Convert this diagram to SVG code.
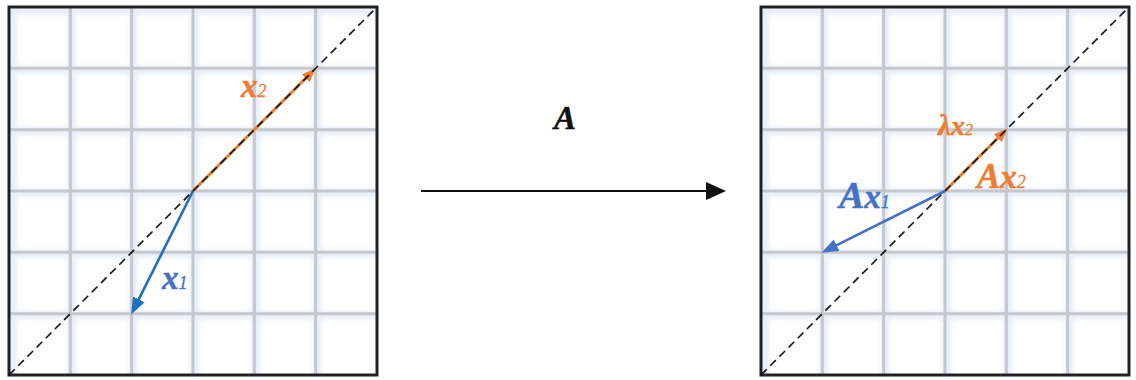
<svg xmlns="http://www.w3.org/2000/svg" xmlns:xlink="http://www.w3.org/1999/xlink" width="1136" height="380" viewBox="0 0 1136 380">
<style>
.glow{stroke:#d3e0f4;stroke-width:8;fill:none;opacity:0.55}
.gl{stroke:#c6c7cc;stroke-width:3;fill:none}
.frame{fill:none;stroke:#222;stroke-width:3}
.diag{stroke:#111;stroke-width:1.6;stroke-dasharray:8 5;fill:none}
.lbl{font-family:"Liberation Serif","Times New Roman",serif;font-weight:bold;font-style:italic;stroke-width:0.5}
.sub{font-weight:normal;stroke-width:0.3}
.blue{fill:#4472c4;stroke:#4472c4}
.orange{fill:#ed7d31;stroke:#ed7d31}
</style>
<defs>
<filter id="blur" x="-5%" y="-5%" width="110%" height="110%"><feGaussianBlur stdDeviation="2"/></filter>
<marker id="ahBlue" viewBox="0 -7 17 14" refX="6" refY="0" markerWidth="17" markerHeight="14" markerUnits="userSpaceOnUse" orient="auto"><path d="M0,-6.5 L17,0 L0,6.5 z" fill="#1f6fbd"/></marker>
<marker id="ahBlue2" viewBox="0 -7 17 14" refX="6" refY="0" markerWidth="17" markerHeight="14" markerUnits="userSpaceOnUse" orient="auto"><path d="M0,-6.5 L17,0 L0,6.5 z" fill="#4472c4"/></marker>
<marker id="ahOrange" viewBox="0 -6 14 12" refX="4" refY="0" markerWidth="14" markerHeight="12" markerUnits="userSpaceOnUse" orient="auto"><path d="M0,-5.5 L14,0 L0,5.5 z" fill="#ed7d31"/></marker>
<g id="gridsym">
<rect x="0" y="0" width="368" height="368" fill="#fff"/>
<g filter="url(#blur)" class="glow" transform="translate(1.5,1.5)">
<path d="M61.33,0V368M122.67,0V368M184,0V368M245.33,0V368M306.67,0V368M0,61.33H368M0,122.67H368M0,184H368M0,245.33H368M0,306.67H368M2,0V368M0,2H368"/>
</g>
<path class="gl" d="M61.33,0V368M122.67,0V368M184,0V368M245.33,0V368M306.67,0V368M0,61.33H368M0,122.67H368M0,184H368M0,245.33H368M0,306.67H368"/>
<rect class="frame" x="0" y="0" width="368" height="368"/>
</g>
</defs>
<g id="left-plane">
<use xlink:href="#gridsym" transform="translate(9,7)"/>
</g>
<g id="right-plane">
<use xlink:href="#gridsym" transform="translate(761,7)"/>
</g>
<g id="connectors">
<line x1="193" y1="191" x2="308.6" y2="75.4" stroke="#ed7d31" stroke-width="3" marker-end="url(#ahOrange)"/>
<line class="diag" x1="9" y1="375" x2="377" y2="7"/>
<line x1="193" y1="191" x2="136.1" y2="304.7" stroke="#1f6fbd" stroke-width="2.6" marker-end="url(#ahBlue)"/>
<line x1="945" y1="191" x2="1000.7" y2="135.3" stroke="#ed7d31" stroke-width="3" marker-end="url(#ahOrange)"/>
<line class="diag" x1="761" y1="375" x2="1129" y2="7"/>
<line x1="945" y1="191" x2="831.3" y2="247.9" stroke="#4472c4" stroke-width="2.6" marker-end="url(#ahBlue2)"/>
<line x1="421" y1="191" x2="708" y2="191" stroke="#111" stroke-width="2"/>
<polygon points="706,182 726,191 706,200" fill="#111"/>
</g>
<g id="labels">
<text class="lbl" x="565" y="129" font-size="33" text-anchor="middle" fill="#111" stroke="#111">A</text>
<text class="lbl blue" x="162" y="289" font-size="33">x<tspan class="sub" font-size="18">1</tspan></text>
<text class="lbl orange" x="241" y="97" font-size="33">x<tspan class="sub" font-size="18">2</tspan></text>
<text class="lbl blue" x="839" y="208" font-size="38">A<tspan font-size="33">x</tspan><tspan class="sub" font-size="18">1</tspan></text>
<text class="lbl orange" x="938" y="135" font-size="29">λ<tspan font-size="28">x</tspan><tspan class="sub" font-size="16">2</tspan></text>
<text class="lbl orange" x="977" y="188" font-size="35">A<tspan font-size="33">x</tspan><tspan class="sub" font-size="18">2</tspan></text>
</g>
</svg>
